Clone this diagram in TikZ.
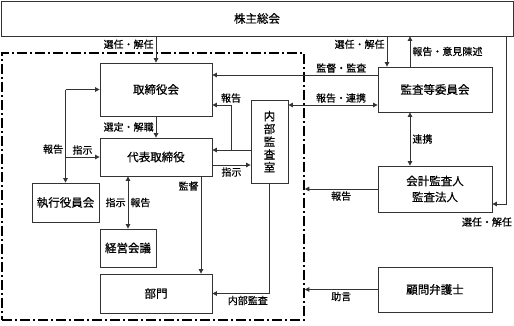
\documentclass[tikz,border=0pt]{standalone}
\usepackage{fontspec}
\newfontfamily\jpfont[FakeBold=0.5]{Noto Sans CJK JP}
\usepackage{tikz}
\usetikzlibrary{arrows.meta, positioning, calc}

\begin{document}
\begin{tikzpicture}[x=1pt, y=-1pt,
        box/.style={rectangle, draw=black!80, line width=0.8pt, align=center, inner sep=0pt, font=\jpfont\fontsize{11.5}{16}\selectfont},
        lbl/.style={inner sep=2pt, font=\jpfont\fontsize{10}{12}\selectfont},
        arr/.style={draw=black!80, line width=0.8pt, -{Triangle[length=4.5pt, width=4.5pt]}},
        darr/.style={arr, {Triangle[length=4.5pt, width=4.5pt]}-{Triangle[length=4.5pt, width=4.5pt]}},
        frame/.style={draw=black, line width=1.6pt, dash pattern=on 10pt off 3pt on 2pt off 3pt, inner sep=0pt}
    ]
        \useasboundingbox (0,0) rectangle (514,325);

        % Company boundary
        \node[frame, minimum width=302pt, minimum height=267pt] (grp) at (153,186.5) {};

        % Shareholders
        \node[box, minimum width=512pt, minimum height=35pt] (gsm) at (257,18.5) {株主総会};

        % Inside the company
        \node[box, minimum width=112pt, minimum height=53pt] (board) at (156,89.5) {取締役会};
        \node[box, minimum width=112pt, minimum height=38pt] (ceo) at (156,157) {代表取締役};
        \node[box, minimum width=67pt, minimum height=39pt] (exec) at (65.5,202.5) {執行役員会};
        \node[box, minimum width=56pt, minimum height=38pt] (mgmt) at (128,248) {経営会議};
        \node[box, minimum width=112pt, minimum height=39pt] (dept) at (156,293.5) {部門};
        \node[box, minimum width=37pt, minimum height=83pt, font=\jpfont\fontsize{11.5}{12.8}\selectfont] (iaudit) at (269.5,141.5) {内\\部\\監\\査\\室};

        % Outside the company
        \node[box, minimum width=114pt, minimum height=45pt] (acom) at (435,89.5) {監査等委員会};
        \node[box, minimum width=114pt, minimum height=46pt] (cpa) at (435,189) {会計監査人\\監査法人};
        \node[box, minimum width=114pt, minimum height=45pt] (lawyer) at (435,289.5) {顧問弁護士};

        % Shareholders meeting
        \draw[arr] (board.north |- gsm.south) -- node[lbl, left, pos=0.3] {選任・解任} (board.north);
        \coordinate (selA) at ([xshift=-48pt]acom.north);
        \draw[arr] (selA |- gsm.south) -- node[lbl, left, pos=0.26] {選任・解任} (selA);
        \coordinate (repA) at ([xshift=-25pt]acom.north);
        \draw[arr] (repA) -- node[lbl, right] {報告・意見陳述} (repA |- gsm.south);
        \coordinate (selC) at (506,204);
        \draw[arr] (selC |- gsm.south) -- (selC) -- (selC -| cpa.east);
        \node[lbl] (selClbl) at (487,222) {選任・解任};

        % Audit committee
        \coordinate (supv) at ([yshift=14.5pt]acom.west);
        \draw[arr] (supv) -- node[lbl, above, pos=0.22] {監督・監査} (supv -| board.east);
        \coordinate (link) at ([yshift=-15.5pt]acom.west);
        \draw[darr] (link -| iaudit.east) -- node[lbl, above, pos=0.59] {報告・連携} (link);
        \draw[darr] ([xshift=-25pt]acom.south) -- node[lbl, right] {連携} ([xshift=-25pt]cpa.north);

        % Internal audit
        \coordinate (rep) at (231,150);
        \draw[arr] (rep -| iaudit.west) -- (rep -| ceo.east);
        \draw[arr] (rep) -- (rep |- link) -- node[lbl, above, pos=0] {報告} (link -| board.east);
        \coordinate (ins) at ([yshift=-8pt]ceo.east);
        \draw[arr] (ins) -- node[lbl, below] {指示} (ins -| iaudit.west);
        \draw[arr] (iaudit.south) |- node[lbl, below, pos=0.69] {内部監査} (dept.east);

        % Board and executives
        \draw[arr] (board.south) -- node[lbl, left] {選定・解職} (ceo.north);
        \coordinate (lft) at (exec.north |- board.west);
        \draw[arr] (lft) -- (board.west);
        \draw[arr] (lft) -- node[lbl, left, pos=0.64] {報告} (exec.north);
        \draw[arr] (exec.north |- ceo.west) -- node[lbl, above] {指示} (ceo.west);
        \draw[darr] (mgmt.north |- ceo.south) -- node[lbl, left] {指示} node[lbl, right] {報告} (mgmt.north);
        \coordinate (sup) at ([xshift=45pt]ceo.south);
        \draw[arr] (sup) -- node[lbl, left, pos=0.1] {監督} (sup |- dept.north);

        % External advice
        \draw[arr] (cpa.west) -- node[lbl, below] {報告} (cpa.west -| grp.east);
        \draw[arr] (lawyer.west) -- node[lbl, below] {助言} (lawyer.west -| grp.east);

    \end{tikzpicture}
\end{document}
